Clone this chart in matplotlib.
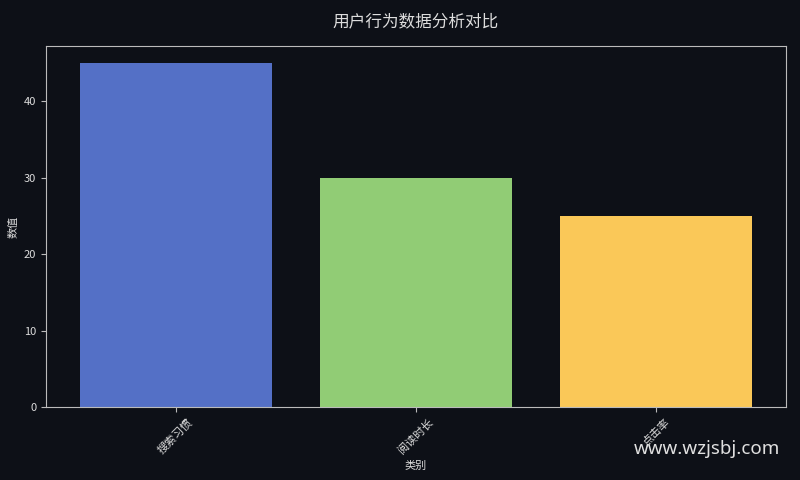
import matplotlib
matplotlib.use("Agg")
import matplotlib.pyplot as plt

categories = ["搜索习惯", "阅读时长", "点击率"]
values = [45, 30, 25]
colors = ["#5470c6", "#91cc75", "#fac858"]

plt.rcParams['font.family'] = ['Noto Sans CJK SC', 'DejaVu Sans']

bg = "#0d1017"
fg = "#dddddd"

fig, ax = plt.subplots(figsize=(8, 4.8), dpi=100)
fig.patch.set_facecolor(bg)
ax.set_facecolor(bg)

ax.bar(categories, values, color=colors)

ax.set_title("用户行为数据分析对比", color=fg, fontsize=12, pad=14)
ax.set_xlabel("类别", color=fg, fontsize=8)
ax.set_ylabel("数值", color=fg, fontsize=8)
ax.tick_params(colors="#bbbbbb", labelsize=8)
for lbl in ax.get_xticklabels():
    lbl.set_rotation(45)
    lbl.set_color(fg)
for lbl in ax.get_yticklabels():
    lbl.set_color(fg)
for s in ax.spines.values():
    s.set_color("#bbbbbb")

plt.subplots_adjust(left=0.0575, right=0.9825, top=0.904, bottom=0.152)

fig.text(0.975, 0.065, "www.wzjsbj.com", color="#e0e0e0", fontsize=13.5,
         ha="right", va="center", family=["Noto Sans", "DejaVu Sans"])

fig.savefig("out.png", dpi=100, facecolor=bg)
